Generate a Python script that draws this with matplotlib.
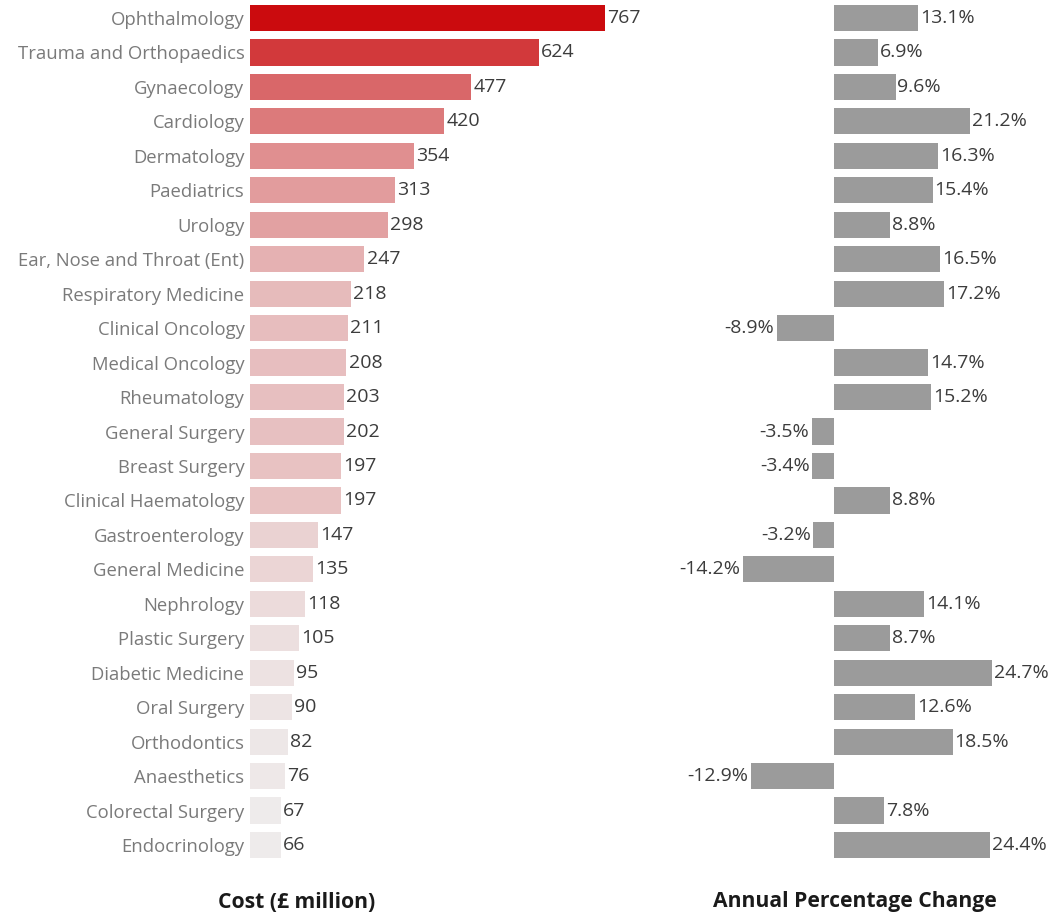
import numpy as np
import matplotlib
matplotlib.use("Agg")
import matplotlib.pyplot as plt
from matplotlib.colors import LinearSegmentedColormap, Normalize

specialties = [
    "Ophthalmology", "Trauma and Orthopaedics", "Gynaecology", "Cardiology",
    "Dermatology", "Paediatrics", "Urology", "Ear, Nose and Throat (Ent)",
    "Respiratory Medicine", "Clinical Oncology", "Medical Oncology",
    "Rheumatology", "General Surgery", "Breast Surgery", "Clinical Haematology",
    "Gastroenterology", "General Medicine", "Nephrology", "Plastic Surgery",
    "Diabetic Medicine", "Oral Surgery", "Orthodontics", "Anaesthetics",
    "Colorectal Surgery", "Endocrinology",
]
cost = [767, 624, 477, 420, 354, 313, 298, 247, 218, 211, 208, 203, 202,
        197, 197, 147, 135, 118, 105, 95, 90, 82, 76, 67, 66]
pct_change = [13.1, 6.9, 9.6, 21.2, 16.3, 15.4, 8.8, 16.5, 17.2, -8.9, 14.7,
              15.2, -3.5, -3.4, 8.8, -3.2, -14.2, 14.1, 8.7, 24.7, 12.6, 18.5,
              -12.9, 7.8, 24.4]

plt.rcParams['font.family'] = ['Open Sans', 'DejaVu Sans']

W, H = 1054, 915
fig = plt.figure(figsize=(W / 100, H / 100), dpi=100)

y = np.arange(len(specialties))
top = 1 - 0.8 / H
bottom = 1 - 862.2 / H
label_size = 13.3
value_size = 14

# left panel: cost
ax1 = fig.add_axes([250 / W, bottom, 450 / W, top - bottom])
cmap = LinearSegmentedColormap.from_list("reds", ["#eeebeb", "#cb0b0e"])
norm = Normalize(vmin=min(cost), vmax=max(cost))
ax1.barh(y, cost, height=0.76, color=cmap(norm(np.array(cost))))
for yi, v in zip(y, cost):
    ax1.text(v + 5, yi, str(v), va="center", ha="left", fontsize=value_size, color="#3c3c3c")
ax1.set_xlim(0, 450 / 0.463)
ax1.set_ylim(len(specialties) - 0.5, -0.5)
ax1.set_yticks(y)
ax1.set_yticklabels(specialties, fontsize=label_size, color="#7a7a7a")
ax1.tick_params(axis="y", length=0, pad=4)
ax1.set_xticks([])
for s in ax1.spines.values():
    s.set_visible(False)

# right panel: annual percentage change
ax2 = fig.add_axes([640 / W, bottom, 414 / W, top - bottom])
ax2.barh(y, pct_change, height=0.76, color="#9b9b9b")
for yi, v in zip(y, pct_change):
    if v >= 0:
        ax2.text(v + 0.3, yi, f"{v:.1f}%", va="center", ha="left", fontsize=value_size, color="#3c3c3c")
    else:
        ax2.text(v - 0.4, yi, f"{v:.1f}%", va="center", ha="right", fontsize=value_size, color="#3c3c3c")
ax2.set_xlim((640 - 834) / 6.41, (1054 - 834) / 6.41)
ax2.set_ylim(len(specialties) - 0.5, -0.5)
ax2.set_xticks([])
ax2.set_yticks([])
for s in ax2.spines.values():
    s.set_visible(False)

fig.text(297 / W, 1 - 902 / H, "Cost (£ million)", ha="center", va="center",
         fontsize=15.2, fontweight="bold", color="#1a1a1a")
fig.text(855 / W, 1 - 902 / H, "Annual Percentage Change", ha="center", va="center",
         fontsize=15.2, fontweight="bold", color="#1a1a1a")

fig.savefig("out.png", dpi=100)
